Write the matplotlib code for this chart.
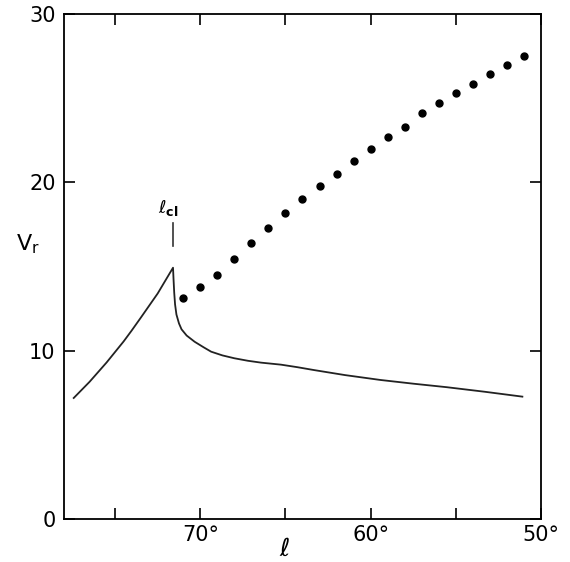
import matplotlib
matplotlib.use('Agg')
import matplotlib.pyplot as plt

# solid curve: rising branch up to the cusp, then the slow decline
curve_l = [77.43, 76.50, 75.50, 74.50, 74.04, 73.50, 72.50, 71.60,
           71.57, 71.53, 71.48, 71.40, 71.25, 71.10, 70.80, 70.33, 69.80,
           69.36, 68.70, 68.00, 67.20, 66.43, 65.26, 64.30, 63.33, 61.50,
           59.42, 57.50, 55.52, 53.30, 51.09]
curve_v = [7.19, 8.15, 9.30, 10.55, 11.18, 11.95, 13.40, 14.93,
           14.25, 13.45, 12.75, 12.15, 11.62, 11.27, 10.90, 10.53, 10.20,
           9.94, 9.72, 9.55, 9.40, 9.29, 9.17, 9.02, 8.85, 8.55,
           8.26, 8.04, 7.83, 7.56, 7.27]

# dotted series, one point per degree
dot_l = list(range(71, 50, -1))
dot_v = [13.13, 13.78, 14.52, 15.43, 16.40, 17.29, 18.18, 19.01, 19.79,
         20.52, 21.27, 22.00, 22.70, 23.31, 24.10, 24.70, 25.29, 25.85,
         26.42, 26.98, 27.53]

l_cl = 71.6
x_ticks = [75, 70, 65, 60, 55, 50]
x_labels = ['', '70°', '', '60°', '', '50°']
y_ticks = [0, 10, 20, 30]

plt.rcParams['font.family'] = ['DejaVu Sans']
fig = plt.figure(figsize=(5.7, 5.62), dpi=100)
ax = fig.add_axes([0.1123, 0.0765, 0.8367, 0.8985])

ax.plot(curve_l, curve_v, color='#222222', linewidth=1.3)
ax.plot(dot_l, dot_v, 'o', color='black', markersize=5)

# marker line and label for l_cl
ax.plot([l_cl, l_cl], [16.2, 17.6], color='#333333', linewidth=1.2)
ax.text(l_cl + 0.3, 17.9, r'$\ell_{\mathbf{cl}}$', fontsize=13,
        ha='center', va='bottom')

ax.set_xlim(78, 50)
ax.set_ylim(0, 30)
ax.set_xticks(x_ticks)
ax.set_xticklabels(x_labels, fontsize=15)
ax.set_yticks(y_ticks)
ax.set_yticklabels([str(t) for t in y_ticks], fontsize=15)
ax.tick_params(direction='in', length=8, width=1.2,
               top=True, right=True, pad=4)
ax.tick_params(axis='y', pad=6)
for s in ax.spines.values():
    s.set_linewidth(1.3)

ax.set_xlabel(r'$\ell$', fontsize=18, labelpad=0)
ax.xaxis.set_label_coords(0.463, -0.035)
ax.set_ylabel(r'$\mathrm{V_r}$', fontsize=16, rotation=0, labelpad=0)
ax.yaxis.set_label_coords(-0.075, 0.52)

fig.savefig('out.png', dpi=100)
